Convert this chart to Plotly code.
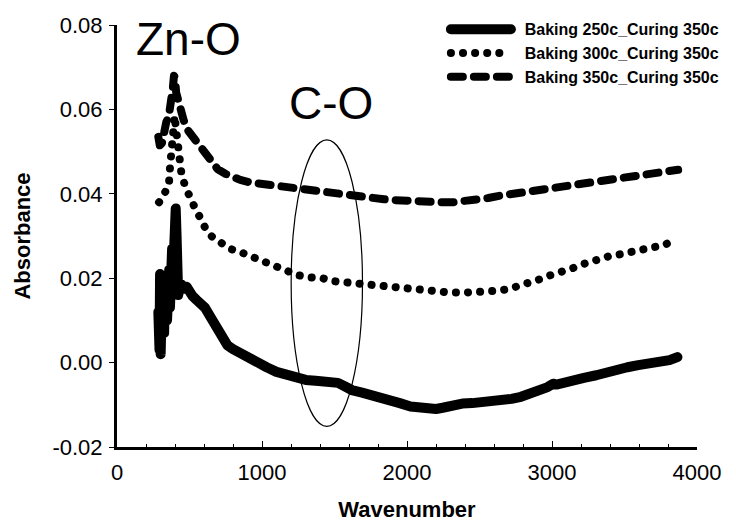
import plotly.graph_objects as go

# FTIR absorbance spectra, three baking temperatures (curing fixed at 350c)
wn_250 = [285, 289, 293, 297, 301, 305, 309, 313, 317, 321, 325, 330, 335, 340, 345,
          350, 355, 360, 365, 370, 375, 380, 385, 390, 395, 400, 405, 410, 416, 422,
          430, 445, 460, 480, 500, 520, 550, 580, 607, 650, 700, 762, 800, 850, 897,
          950, 1000, 1032, 1100, 1167, 1230, 1302, 1370, 1437, 1480, 1524, 1570, 1619,
          1690, 1754, 1820, 1889, 1950, 2024, 2090, 2159, 2200, 2246, 2310, 2381, 2450,
          2516, 2580, 2651, 2720, 2786, 2850, 2921, 2970, 3008, 3030, 3080, 3143, 3220,
          3305, 3370, 3440, 3520, 3595, 3670, 3750, 3810, 3865]
abs_250 = [0.012, 0.020, 0.003, 0.021, 0.002, 0.019, 0.004, 0.020, 0.005, 0.018, 0.007,
           0.020, 0.008, 0.019, 0.010, 0.021, 0.011, 0.022, 0.013, 0.024, 0.016, 0.027,
           0.019, 0.030, 0.024, 0.034, 0.0365, 0.031, 0.022, 0.016, 0.0175, 0.0185,
           0.0175, 0.018, 0.0165, 0.0158, 0.0148, 0.0137, 0.013, 0.0105, 0.0078, 0.0041,
           0.0032, 0.0022, 0.001, 0.0002, -0.0006, -0.0011, -0.0022, -0.003, -0.0036,
           -0.0041, -0.0043, -0.0044, -0.0045, -0.0048, -0.0056, -0.0065, -0.0071,
           -0.0076, -0.0082, -0.0088, -0.0096, -0.0104, -0.0108, -0.0109, -0.011,
           -0.0107, -0.0101, -0.0097, -0.0096, -0.0095, -0.0093, -0.009, -0.0086,
           -0.0081, -0.0074, -0.0065, -0.0058, -0.005, -0.0052, -0.0048, -0.0041,
           -0.0036, -0.003, -0.0023, -0.0018, -0.0011, -0.0006, -0.0003, 0.0001,
           0.0006, 0.0013]

wn_300 = [290, 305, 320, 340, 358, 365, 372, 380, 390, 398, 405, 415, 425, 435, 445,
          472, 506, 546, 580, 607, 650, 708, 776, 850, 900, 951, 1000, 1052, 1110, 1167,
          1248, 1336, 1417, 1491, 1558, 1619, 1686, 1754, 1828, 1895, 2000, 2100, 2200,
          2300, 2400, 2500, 2617, 2698, 2772, 2853, 2921, 2988, 3076, 3137, 3211, 3278,
          3326, 3393, 3460, 3528, 3595, 3663, 3717, 3777, 3831]
abs_300 = [0.038, 0.0385, 0.0395, 0.041, 0.0423, 0.046, 0.050, 0.054, 0.058, 0.0585,
           0.056, 0.053, 0.050, 0.047, 0.0446, 0.0416, 0.0387, 0.036, 0.034, 0.032,
           0.030, 0.0287, 0.027, 0.0262, 0.0255, 0.0247, 0.024, 0.0233, 0.0224, 0.0216,
           0.0207, 0.0202, 0.020, 0.0193, 0.0191, 0.0186, 0.0184, 0.0181, 0.0179, 0.0177,
           0.0174, 0.017, 0.0167, 0.0166, 0.0166, 0.0167, 0.017, 0.0174, 0.0181, 0.0188,
           0.0198, 0.0207, 0.0214, 0.0223, 0.0233, 0.024, 0.0247, 0.0252, 0.0256,
           0.0261, 0.0268, 0.027, 0.0277, 0.0279, 0.0289]

wn_350 = [285, 295, 310, 325, 340, 358, 372, 385, 393, 400, 408, 420, 440, 460, 490,
          526, 560, 594, 640, 695, 750, 796, 850, 917, 1000, 1079, 1150, 1221, 1300,
          1383, 1460, 1538, 1610, 1693, 1770, 1841, 1920, 2000, 2080, 2160, 2240, 2320,
          2400, 2480, 2560, 2651, 2730, 2806, 2880, 2941, 3010, 3089, 3150, 3211, 3270,
          3326, 3385, 3440, 3495, 3548, 3600, 3650, 3700, 3750, 3800, 3870]
abs_350 = [0.0535, 0.0515, 0.052, 0.055, 0.057, 0.0586, 0.061, 0.065, 0.068, 0.0675,
           0.064, 0.062, 0.0595, 0.0574, 0.055, 0.0533, 0.0515, 0.0498, 0.0478, 0.0458,
           0.0447, 0.0439, 0.0433, 0.0427, 0.0423, 0.042, 0.0418, 0.0415, 0.0412,
           0.0409, 0.0405, 0.0401, 0.0397, 0.0392, 0.0389, 0.0387, 0.0385, 0.0383,
           0.0381, 0.038, 0.038, 0.038, 0.0382, 0.0385, 0.039, 0.0396, 0.04, 0.0403,
           0.0407, 0.041, 0.0414, 0.0418, 0.042, 0.0423, 0.0425, 0.0427, 0.043, 0.0432,
           0.0436, 0.0439, 0.0441, 0.0444, 0.0448, 0.0451, 0.0453, 0.0457]

series_names = ["Baking 250c_Curing 350c", "Baking 300c_Curing 350c",
                "Baking 350c_Curing 350c"]

x_ticks = [0, 1000, 2000, 3000, 4000]
y_ticks = [-0.02, 0.00, 0.02, 0.04, 0.06, 0.08]
y_tick_text = ["-0.02", "0.00", "0.02", "0.04", "0.06", "0.08"]

FONT = "Liberation Sans, Arial, sans-serif"
GAP = "\u00a0\u00a0"  # spacing between legend sample and its label

fig = go.Figure()
fig.add_trace(go.Scatter(x=wn_250, y=abs_250, mode="lines", name=GAP + series_names[0],
                         line=dict(color="black", width=10)))
fig.add_trace(go.Scatter(x=wn_300, y=abs_300, mode="lines", name=GAP + series_names[1],
                         line=dict(color="black", width=8, dash="0.1px,12px")))
fig.add_trace(go.Scatter(x=wn_350, y=abs_350, mode="lines", name=GAP + series_names[2],
                         line=dict(color="black", width=8, dash="12px,11px")))

# band labels and the C-O region marker
fig.add_annotation(x=492, y=0.0766, text="Zn-O", showarrow=False,
                   font=dict(family=FONT, size=46, color="black"))
fig.add_annotation(x=1477, y=0.0615, text="C-O", showarrow=False,
                   font=dict(family=FONT, size=46, color="black"))
fig.add_shape(type="circle", xref="x", yref="y", x0=1201, x1=1693, y0=-0.0151, y1=0.0528,
              line=dict(color="black", width=1.2))

fig.update_layout(
    width=736, height=527,
    margin=dict(l=117, r=26, t=20, b=80),
    paper_bgcolor="white", plot_bgcolor="white",
    font=dict(family=FONT, color="black"),
    showlegend=True,
    legend=dict(x=0.567, y=1.03, xanchor="left", yanchor="top",
                bgcolor="rgba(0,0,0,0)", itemwidth=60, tracegroupgap=0,
                font=dict(family=FONT, size=16, color="black", weight="bold")),
    # second y axis carries the inner half of the crossing y ticks
    yaxis2=dict(overlaying="y", side="left", range=[-0.02, 0.08], tickvals=y_ticks,
                ticks="inside", ticklen=4, tickwidth=1, tickcolor="black",
                showticklabels=False, showline=False, showgrid=False, zeroline=False,
                automargin=False),
)
fig.update_xaxes(
    range=[0, 4000], tickvals=x_ticks, ticks="inside", ticklen=6, tickwidth=1,
    tickcolor="black", showline=True, linecolor="black", linewidth=3,
    showgrid=False, zeroline=False, tickfont=dict(size=22, family=FONT),
    ticklabelstandoff=4, automargin=False,
    minor=dict(dtick=200, ticks="inside", ticklen=3, tickcolor="black", showgrid=False),
    title=dict(text="<b>Wavenumber</b>", font=dict(size=22, family=FONT), standoff=18),
)
fig.update_yaxes(
    selector=dict(overlaying=None),
    range=[-0.02, 0.08], tickvals=y_ticks, ticktext=y_tick_text, ticks="outside",
    ticklen=5, tickwidth=1, tickcolor="black", showline=True, linecolor="black",
    linewidth=3, showgrid=False, zeroline=False, tickfont=dict(size=22, family=FONT),
    ticklabelstandoff=2, automargin=False,
    title=dict(text="<b>Absorbance</b>", font=dict(size=22, family=FONT), standoff=16),
)

# round caps so the dotted/dashed patterns draw as dots and rounded dashes
round_caps = (
    "var s=document.createElement('style');"
    "s.textContent='.scatterlayer path.js-line, .legendlines path"
    "{stroke-linecap:round;stroke-linejoin:round}';"
    "document.head.appendChild(s);"
)
fig.write_html("out.html", post_script=round_caps)
